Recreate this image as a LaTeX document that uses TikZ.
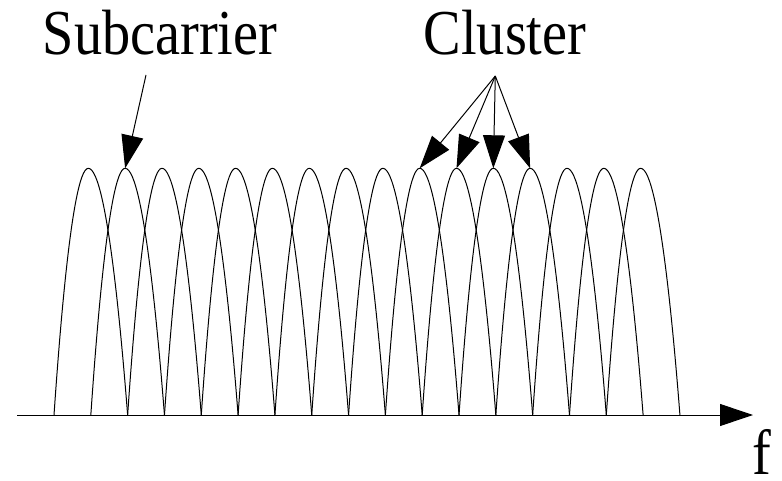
\documentclass[tikz,border=0pt]{standalone}
\usepackage{fontspec}
\newfontfamily\lblfont{Liberation Serif}
\usetikzlibrary{arrows.meta}
\begin{document}
\begin{tikzpicture}[x=1pt,y=1pt,line width=1pt,
  bigtip/.style={-{Triangle[length=33pt,width=22pt]}},
  lbl/.style={font=\lblfont\fontsize{64}{70}\selectfont,xscale=0.88,anchor=base,inner sep=0pt}]
\useasboundingbox (0,0) rectangle (782,480);
\coordinate(O) at (17,65);
\coordinate(fend) at (753,65);
\draw [bigtip] (O) -- (fend);
% subcarriers
\foreach \i in {0,...,15}{
  \coordinate(p\i) at (88.3+36.82*\i,311.7);
  \draw (54+36.82*\i,65) parabola bend (p\i) (127.64+36.82*\i,65);
}
\node[lbl] (sub) at (160,425) {Subcarrier};
\node[lbl] (clu) at (505,425) {Cluster};
\node[lbl] (f) at (762,6) {f};
\coordinate(st) at (146,405);
\coordinate(ct) at (495.3,404);
\draw [bigtip] (st) -- (p1);
\foreach \i in {9,...,12}
  \draw [bigtip] (ct) -- (p\i);
\end{tikzpicture}
\end{document}
